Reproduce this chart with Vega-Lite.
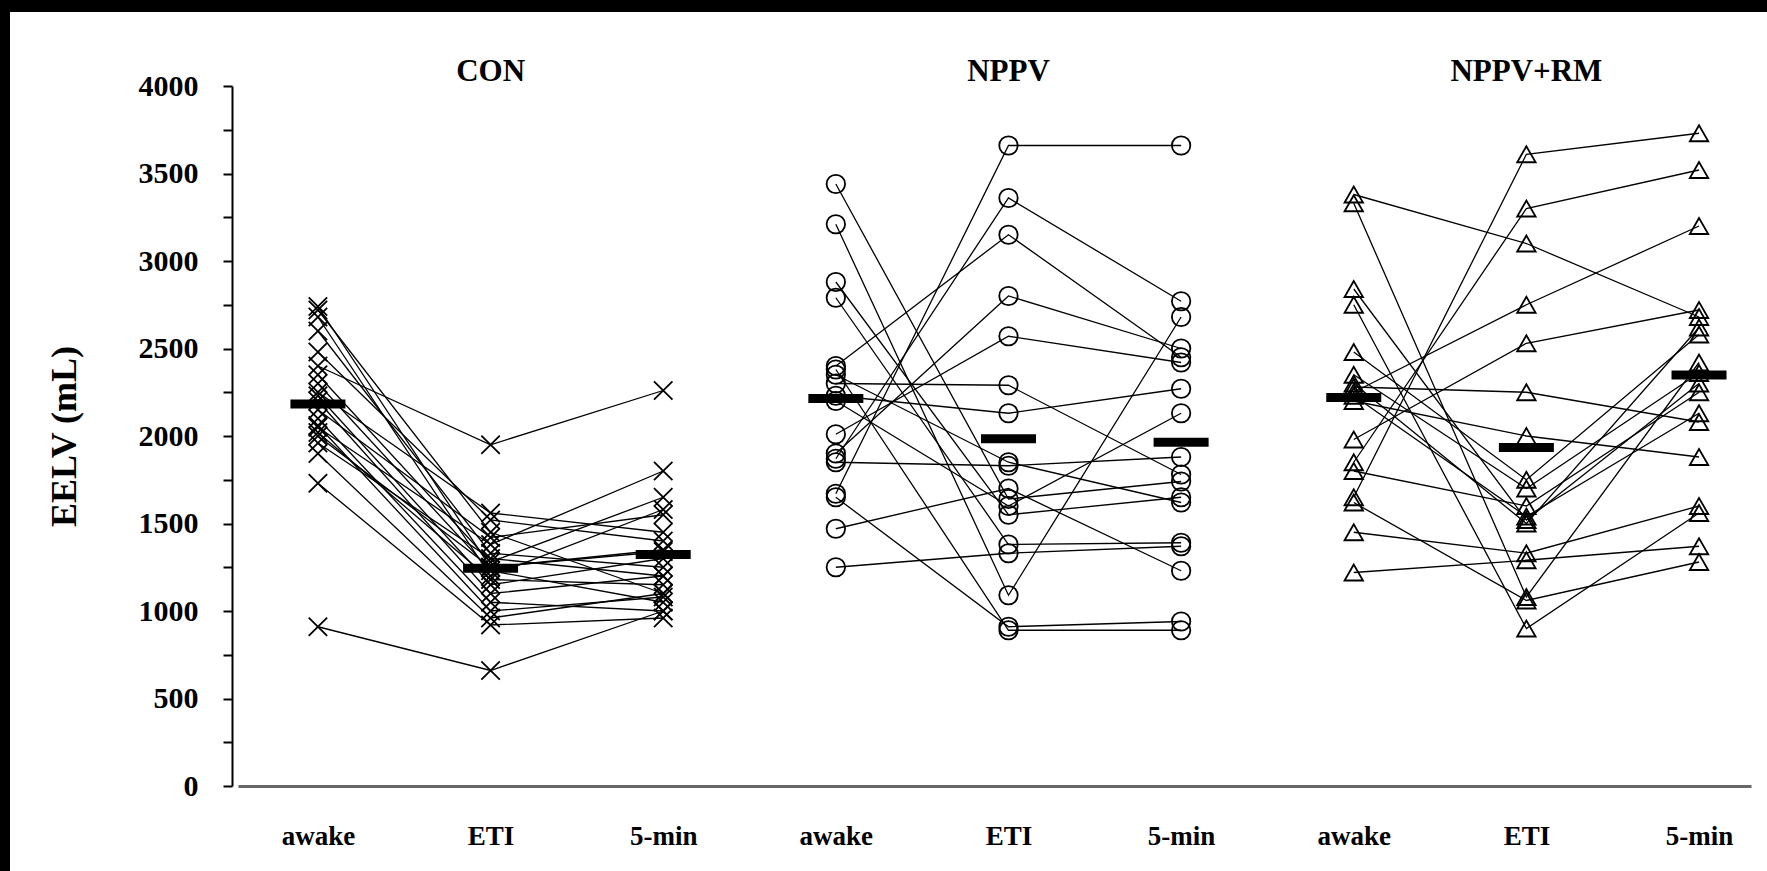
{
  "$schema": "https://vega.github.io/schema/vega-lite/v6.json",
  "background": "white",
  "padding": 0,
  "config": {
    "view": {"stroke": null},
    "font": "Liberation Serif"
  },
  "datasets": {
    "subjects": [
      {"group": "CON", "subject": "C01", "awake": 2740, "ETI": 1250, "5-min": 1350},
      {"group": "CON", "subject": "C02", "awake": 2720, "ETI": 1450, "5-min": 1100},
      {"group": "CON", "subject": "C03", "awake": 2680, "ETI": 1200, "5-min": 1580},
      {"group": "CON", "subject": "C04", "awake": 2600, "ETI": 1330, "5-min": 1250},
      {"group": "CON", "subject": "C05", "awake": 2480, "ETI": 1520, "5-min": 1400},
      {"group": "CON", "subject": "C06", "awake": 2400, "ETI": 1950, "5-min": 2260},
      {"group": "CON", "subject": "C07", "awake": 2350, "ETI": 1280, "5-min": 1650},
      {"group": "CON", "subject": "C08", "awake": 2300, "ETI": 1230, "5-min": 1050},
      {"group": "CON", "subject": "C09", "awake": 2250, "ETI": 1560, "5-min": 1450},
      {"group": "CON", "subject": "C10", "awake": 2230, "ETI": 1150, "5-min": 1300},
      {"group": "CON", "subject": "C11", "awake": 2200, "ETI": 1100, "5-min": 1200},
      {"group": "CON", "subject": "C12", "awake": 2150, "ETI": 1420, "5-min": 1550},
      {"group": "CON", "subject": "C13", "awake": 2100, "ETI": 1050, "5-min": 1000},
      {"group": "CON", "subject": "C14", "awake": 2050, "ETI": 1380, "5-min": 1800},
      {"group": "CON", "subject": "C15", "awake": 2020, "ETI": 1180, "5-min": 1150},
      {"group": "CON", "subject": "C16", "awake": 2060, "ETI": 1000, "5-min": 1080},
      {"group": "CON", "subject": "C17", "awake": 2000, "ETI": 1250, "5-min": 1340},
      {"group": "CON", "subject": "C18", "awake": 1900, "ETI": 960, "5-min": 1100},
      {"group": "CON", "subject": "C19", "awake": 1960, "ETI": 1300, "5-min": 1200},
      {"group": "CON", "subject": "C20", "awake": 1730, "ETI": 920, "5-min": 960},
      {"group": "CON", "subject": "C21", "awake": 910, "ETI": 660, "5-min": 1000},
      {"group": "NPPV", "subject": "N01", "awake": 3440, "ETI": 1640, "5-min": 1740},
      {"group": "NPPV", "subject": "N02", "awake": 3210, "ETI": 1090, "5-min": 2680},
      {"group": "NPPV", "subject": "N03", "awake": 2880, "ETI": 1550, "5-min": 1650},
      {"group": "NPPV", "subject": "N04", "awake": 2790, "ETI": 1380, "5-min": 1390},
      {"group": "NPPV", "subject": "N05", "awake": 2400, "ETI": 3150, "5-min": 2450},
      {"group": "NPPV", "subject": "N06", "awake": 2350, "ETI": 1850, "5-min": 1620},
      {"group": "NPPV", "subject": "N07", "awake": 2300, "ETI": 2290, "5-min": 1780},
      {"group": "NPPV", "subject": "N08", "awake": 2230, "ETI": 2130, "5-min": 2270},
      {"group": "NPPV", "subject": "N09", "awake": 2010, "ETI": 2570, "5-min": 2420},
      {"group": "NPPV", "subject": "N10", "awake": 1900, "ETI": 2800, "5-min": 2500},
      {"group": "NPPV", "subject": "N11", "awake": 1870, "ETI": 3360, "5-min": 2770},
      {"group": "NPPV", "subject": "N12", "awake": 1850, "ETI": 1830, "5-min": 1880},
      {"group": "NPPV", "subject": "N13", "awake": 1670, "ETI": 3660, "5-min": 3660},
      {"group": "NPPV", "subject": "N14", "awake": 1650, "ETI": 910, "5-min": 940},
      {"group": "NPPV", "subject": "N15", "awake": 1470, "ETI": 1700, "5-min": 1230},
      {"group": "NPPV", "subject": "N16", "awake": 1250, "ETI": 1330, "5-min": 1370},
      {"group": "NPPV", "subject": "N17", "awake": 2380, "ETI": 890, "5-min": 890},
      {"group": "NPPV", "subject": "N18", "awake": 2200, "ETI": 1600, "5-min": 2130},
      {"group": "NPPV+RM", "subject": "R01", "awake": 3380, "ETI": 3100, "5-min": 2680},
      {"group": "NPPV+RM", "subject": "R02", "awake": 3330, "ETI": 1080, "5-min": 2420},
      {"group": "NPPV+RM", "subject": "R03", "awake": 2840, "ETI": 1520, "5-min": 2300},
      {"group": "NPPV+RM", "subject": "R04", "awake": 2750, "ETI": 900, "5-min": 1560},
      {"group": "NPPV+RM", "subject": "R05", "awake": 2480, "ETI": 1750, "5-min": 2580},
      {"group": "NPPV+RM", "subject": "R06", "awake": 2350, "ETI": 1700, "5-min": 2360},
      {"group": "NPPV+RM", "subject": "R07", "awake": 2280, "ETI": 2250, "5-min": 2080},
      {"group": "NPPV+RM", "subject": "R08", "awake": 2250, "ETI": 2750, "5-min": 3200},
      {"group": "NPPV+RM", "subject": "R09", "awake": 2200, "ETI": 2000, "5-min": 1880},
      {"group": "NPPV+RM", "subject": "R10", "awake": 2300, "ETI": 1500, "5-min": 2620},
      {"group": "NPPV+RM", "subject": "R11", "awake": 1980, "ETI": 2530, "5-min": 2720},
      {"group": "NPPV+RM", "subject": "R12", "awake": 1850, "ETI": 3300, "5-min": 3520},
      {"group": "NPPV+RM", "subject": "R13", "awake": 1800, "ETI": 1600, "5-min": 2250},
      {"group": "NPPV+RM", "subject": "R14", "awake": 1650, "ETI": 3610, "5-min": 3730},
      {"group": "NPPV+RM", "subject": "R15", "awake": 1620, "ETI": 1060, "5-min": 1280},
      {"group": "NPPV+RM", "subject": "R16", "awake": 1450, "ETI": 1330, "5-min": 1600},
      {"group": "NPPV+RM", "subject": "R17", "awake": 1220, "ETI": 1290, "5-min": 1370},
      {"group": "NPPV+RM", "subject": "R18", "awake": 2230, "ETI": 1540, "5-min": 2130}
    ],
    "groups": [
      {"group": "CON", "time": "ETI"},
      {"group": "NPPV", "time": "ETI"},
      {"group": "NPPV+RM", "time": "ETI"}
    ]
  },
  "spacing": 0,
  "vconcat": [
    {
      "width": 1767,
      "height": 12,
      "view": {"fill": "black", "stroke": null},
      "data": {"values": []},
      "mark": "rect",
      "encoding": {}
    },
    {
      "spacing": 36,
      "hconcat": [
        {
          "width": 10,
          "height": 859,
          "view": {"fill": "black", "stroke": null},
          "data": {"values": []},
          "mark": "rect",
          "encoding": {}
        },
        {
          "width": 1513,
          "height": 774,
          "encoding": {
            "x": {
              "field": "slot",
              "type": "nominal",
              "scale": {
                "type": "point",
                "domain": ["CON|awake", "CON|ETI", "CON|5-min", "NPPV|awake", "NPPV|ETI", "NPPV|5-min", "NPPV+RM|awake", "NPPV+RM|ETI", "NPPV+RM|5-min"],
                "padding": 0.382,
                "align": 0.606
              },
              "axis": {
                "title": null,
                "labelExpr": "split(datum.value, '|')[1]",
                "labelAngle": 0,
                "ticks": false,
                "tickSize": 0,
                "domainColor": "#666666",
                "domainWidth": 3,
                "labelFont": "Liberation Serif",
                "labelFontSize": 27,
                "labelFontWeight": "bold",
                "labelColor": "black",
                "labelPadding": 37
              }
            }
          },
          "layer": [
            {
              "data": {"name": "subjects"},
              "transform": [
                {"fold": ["awake", "ETI", "5-min"], "as": ["time", "eelv"]},
                {"calculate": "datum.group + '|' + datum.time", "as": "slot"}
              ],
              "encoding": {
                "y": {
                  "field": "eelv",
                  "type": "quantitative",
                  "title": "EELV (mL)",
                  "scale": {"domain": [0, 4000], "range": [774, 74], "nice": false, "zero": false},
                  "axis": {
                    "values": [0, 250, 500, 750, 1000, 1250, 1500, 1750, 2000, 2250, 2500, 2750, 3000, 3250, 3500, 3750, 4000],
                    "format": "d",
                    "labelExpr": "datum.value % 500 === 0 ? datum.label : ''",
                    "grid": false,
                    "offset": 6,
                    "domainColor": "black",
                    "domainWidth": 2,
                    "tickColor": "black",
                    "tickWidth": 2,
                    "tickSize": 9,
                    "labelFont": "Liberation Serif",
                    "labelFontSize": 30,
                    "labelFontWeight": "bold",
                    "labelColor": "black",
                    "labelPadding": 25,
                    "titleFont": "Liberation Serif",
                    "titleFontSize": 36,
                    "titleFontWeight": "bold",
                    "titleColor": "black",
                    "titlePadding": 55
                  }
                }
              },
              "layer": [
                {
                  "mark": {"type": "line", "color": "black", "strokeWidth": 1.3},
                  "encoding": {"detail": {"field": "subject"}}
                },
                {
                  "mark": {"type": "point", "filled": false, "color": "black", "strokeWidth": 1.8, "size": 340, "opacity": 1},
                  "encoding": {
                    "shape": {
                      "field": "group",
                      "type": "nominal",
                      "scale": {
                        "domain": ["CON", "NPPV", "NPPV+RM"],
                        "range": ["M-1,-1L1,1M-1,1L1,-1", "circle", "triangle-up"]
                      },
                      "legend": null
                    }
                  }
                },
                {
                  "mark": {"type": "tick", "color": "black", "thickness": 9, "size": 55, "opacity": 1},
                  "encoding": {
                    "y": {"aggregate": "mean", "field": "eelv", "type": "quantitative", "title": "EELV (mL)"}
                  }
                }
              ]
            },
            {
              "data": {"name": "groups"},
              "transform": [
                {"calculate": "datum.group + '|' + datum.time", "as": "slot"}
              ],
              "mark": {
                "type": "text",
                "font": "Liberation Serif",
                "fontSize": 31,
                "fontWeight": "bold",
                "color": "black",
                "baseline": "middle",
                "align": "center"
              },
              "encoding": {
                "y": {
                  "datum": 4080,
                  "type": "quantitative",
                  "title": "EELV (mL)",
                  "scale": {"domain": [0, 4000], "range": [774, 74], "nice": false, "zero": false}
                },
                "text": {"field": "group"}
              }
            }
          ]
        }
      ]
    }
  ]
}
